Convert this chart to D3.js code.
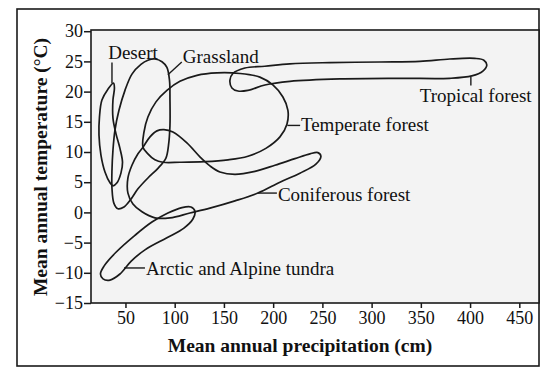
<!DOCTYPE html>
<html><head><meta charset="utf-8">
<script src="https://cdn.jsdelivr.net/npm/d3@7"></script>
<style>body{margin:0;background:#fff}svg{display:block}</style>
</head><body><svg id="c" width="559" height="379"></svg>
<script>
// ---- data (precipitation cm, temperature °C) ----
const xTicks = [50,100,150,200,250,300,350,400,450];
const yTicks = [-15,-10,-5,0,5,10,15,20,25,30];

const desert = [[37.8,21.4],[32.2,20.4],[26.1,18.6],[23.6,15.8],[23.1,12.8],[25.1,9.5],[29.2,6.7],[34.3,4.9],[37.3,4.4],[41.4,4.9],[45.4,6.5],[47.0,8.3],[44.4,10.6],[40.4,13.0],[37.3,15.6],[37.3,18.6],[38.8,20.6]];
const grassland = [[79.9,25.4],[87.1,24.95],[92.1,24.0],[94.7,21.9],[95.2,18.6],[95.2,14.4],[93.7,11.1],[91.1,9.0],[83.0,7.3],[72.8,5.7],[62.7,3.9],[55.6,2.2],[48.5,0.9],[42.4,0.6],[38.3,1.5],[36.3,4.0],[36.3,7.0],[37.3,10.3],[39.3,13.6],[43.4,16.9],[49.5,20.2],[56.6,22.9],[65.7,24.5],[72.8,25.2]];
const temperate = [[67.8,10.8],[68.8,13.3],[72.8,15.8],[81.0,18.3],[92.1,20.2],[105.3,21.7],[122.6,22.7],[142.9,23.1],[166.2,23.0],[186.5,22.4],[199.7,21.1],[209.9,19.1],[215.0,16.9],[214.0,14.6],[206.9,12.5],[192.6,10.6],[174.4,9.3],[154.1,8.7],[130.7,8.4],[105.3,8.3],[88.1,8.3],[79.9,8.7],[72.8,9.7]];
const tropical = [[156.1,21.9],[159.1,23.0],[171.3,23.9],[191.6,24.2],[217.0,24.6],[257.6,24.8],[308.4,24.9],[349.0,25.0],[379.4,25.4],[404.8,25.5],[414.0,25.2],[417.0,24.4],[413.0,23.4],[401.8,22.6],[379.4,22.2],[328.7,22.2],[267.8,22.1],[217.0,21.7],[191.6,21.1],[174.3,20.2],[164.2,20.1],[158.1,20.6]];
const coniferous = [[67.8,10.8],[74.9,12.5],[82.0,13.5],[89.1,13.7],[98.2,13.3],[112.4,11.5],[125.6,9.2],[135.8,7.7],[145.9,6.7],[161.2,6.3],[181.5,6.8],[201.8,7.8],[222.1,8.9],[237.4,9.7],[245.4,9.9],[248.5,9.3],[243.4,8.0],[227.2,6.5],[206.9,5.0],[184.5,3.2],[161.2,1.9],[135.8,0.7],[115.5,-0.1],[95.2,-0.9],[79.9,-0.9],[66.8,0.1],[57.6,1.4],[52.5,3.2],[52.5,5.7],[56.6,7.8],[62.7,9.7]];
const tundra = [[120.6,0.2],[116.5,0.9],[107.4,0.8],[93.1,-0.1],[76.9,-1.6],[59.6,-3.8],[40.4,-6.6],[28.2,-8.9],[24.6,-10.2],[27.2,-11.0],[34.3,-11.2],[44.4,-10.2],[55.6,-8.1],[69.8,-6.2],[92.1,-4.2],[109.4,-2.6],[118.5,-1.1]];

const biomes = [desert, grassland, temperate, tropical, coniferous, tundra];

const labelNames = ["Desert","Grassland","Tropical forest","Temperate forest","Coniferous forest","Arctic and Alpine tundra"];
const labelAt = [[32.5,25.35],[108.2,24.8],[349.0,18.3],[228.2,13.5],[204.8,1.9],[70.8,-10.4]];
const leaders = [
  [[36.3,21.4],[36.3,24.8]],
  [[93.1,22.8],[107.2,24.9]],
  [[400.8,22.4],[400.8,21.0]],
  [[214.4,14.4],[227.4,14.4]],
  [[184.5,3.2],[203.8,3.2]],
  [[48.5,-9.2],[69.8,-9.2]]
];

// ---- layout ----
const W = 559, H = 379;
const plot = {l:91, r:539, t:30, b:303};
const outer = {l:17, t:9, r:539, b:366};
const svg = d3.select("#c");
const x = d3.scaleLinear().domain([15,470]).range([plot.l, plot.r]);
const y = d3.scaleLinear().domain([-15,30.2]).range([plot.b, plot.t]);
const ink = "#1a1a1a";
const serif = "'Liberation Serif','Times New Roman',serif";

svg.append("rect").attr("x",outer.l).attr("y",outer.t)
  .attr("width",outer.r-outer.l).attr("height",outer.b-outer.t)
  .attr("fill","#fff").attr("stroke",ink).attr("stroke-width",1.6);

svg.append("rect").attr("x",plot.l).attr("y",plot.t)
  .attr("width",plot.r-plot.l).attr("height",plot.b-plot.t)
  .attr("fill","#f3f3f3").attr("stroke","none");

const line = d3.line().x(d=>x(d[0])).y(d=>y(d[1])).curve(d3.curveCatmullRomClosed.alpha(0.5));
svg.append("g").selectAll("path").data(biomes).join("path")
  .attr("d", line).attr("fill","none").attr("stroke",ink).attr("stroke-width",1.7);

const seg = d3.line().x(d=>x(d[0])).y(d=>y(d[1]));
svg.append("g").selectAll("path").data(leaders).join("path")
  .attr("d", seg).attr("fill","none").attr("stroke",ink).attr("stroke-width",1.4);

svg.append("g").selectAll("text").data(labelNames).join("text")
  .attr("x",(d,i)=>x(labelAt[i][0])).attr("y",(d,i)=>y(labelAt[i][1]))
  .attr("font-family",serif).attr("font-size",19).attr("fill","#111")
  .text(d=>d);

// axes
const gx = svg.append("g").attr("transform",`translate(0,${plot.b})`)
  .call(d3.axisBottom(x).tickValues(xTicks).tickSize(5).tickSizeOuter(0).tickPadding(3).tickFormat(d3.format("d")));
const gy = svg.append("g").attr("transform",`translate(${plot.l},0)`)
  .call(d3.axisLeft(y).tickValues(yTicks).tickSize(7).tickSizeOuter(0).tickPadding(1).tickFormat(d=>d<0?"\u2212"+Math.abs(d):String(d)));
[gx,gy].forEach(g=>{
  g.selectAll("text").attr("font-family",serif).attr("font-size",18).attr("fill","#111");
  g.selectAll("line,path").attr("stroke",ink).attr("stroke-width",1.5);
  g.select(".domain").remove();
});

// plot frame
svg.append("rect").attr("x",plot.l).attr("y",plot.t)
  .attr("width",plot.r-plot.l).attr("height",plot.b-plot.t)
  .attr("fill","none").attr("stroke",ink).attr("stroke-width",1.6);

// titles
svg.append("text").attr("x",300).attr("y",352).attr("text-anchor","middle")
  .attr("font-family",serif).attr("font-weight","bold").attr("font-size",19.5).attr("fill","#111")
  .text("Mean annual precipitation (cm)");
svg.append("text").attr("transform","translate(46.5,167) rotate(-90)").attr("text-anchor","middle")
  .attr("font-family",serif).attr("font-weight","bold").attr("font-size",19.5).attr("fill","#111")
  .text("Mean annual temperature (°C)");
</script></body></html>
